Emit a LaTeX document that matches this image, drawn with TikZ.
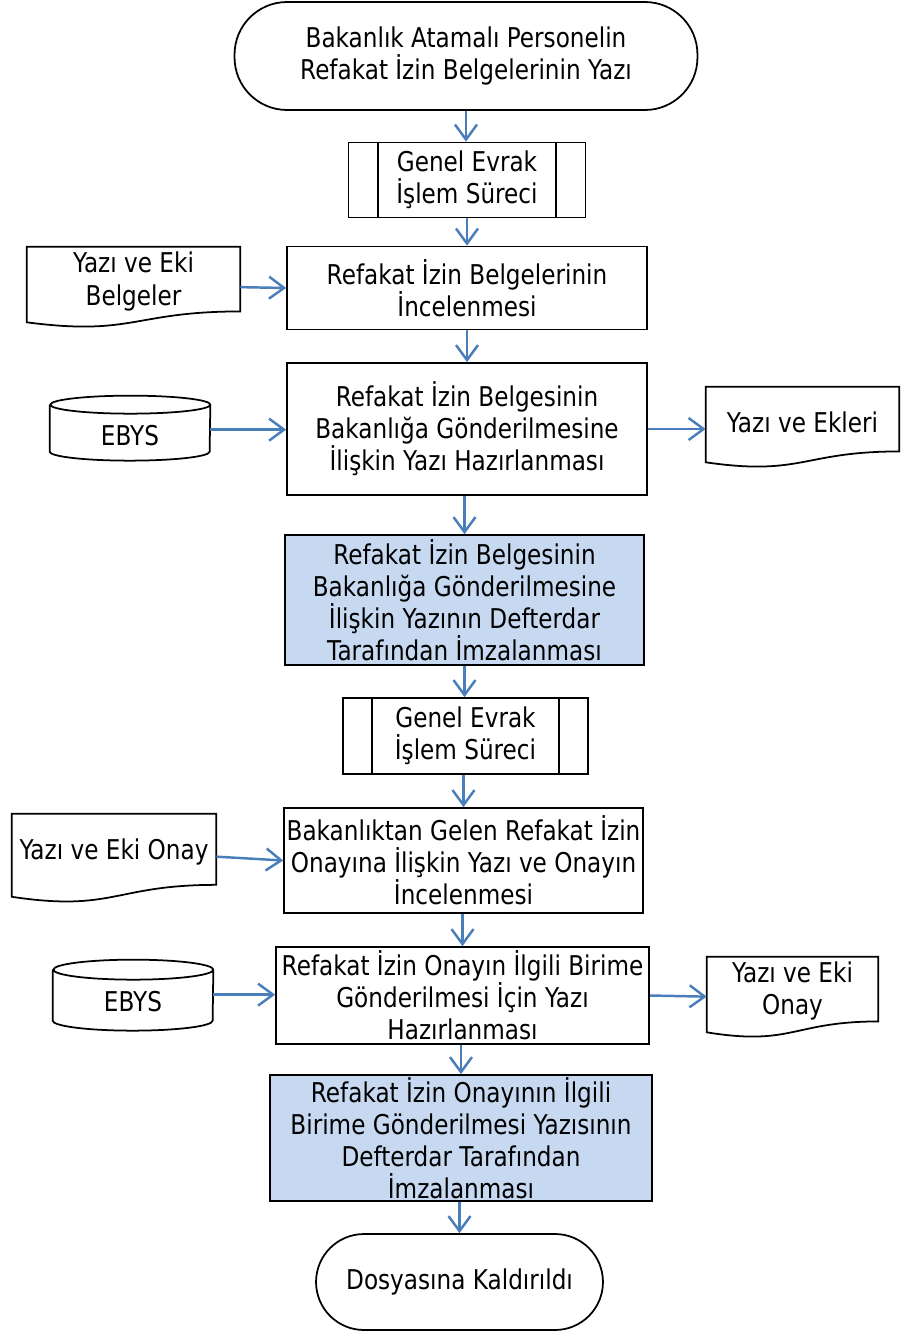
\documentclass[tikz,border=0pt]{standalone}
\usepackage{fontspec}
\setmainfont{DejaVu Sans}[FakeStretch=0.85]
\usetikzlibrary{arrows.meta,calc}
\definecolor{flowblue}{HTML}{4A7EBB}
\definecolor{fillblue}{HTML}{C6D9F1}
\tikzset{every node/.style={align=center, inner sep=0pt, font=\fontsize{15.5}{18.3}\selectfont},
  proc/.style={draw, line width=1pt},
  blueproc/.style={proc, fill=fillblue},
  term/.style={draw, line width=1pt, rounded corners=1.05cm},
  subproc/.style={draw, line width=1pt},
  docbox/.style={},
  dbbox/.style={minimum width=3.2cm},
  shapeline/.style={line width=1pt},
  flow/.style={flowblue, line width=1.4pt, -{Straight Barb[length=0.3cm,width=0.44cm,line width=1.4pt]}}}

\begin{document}
\begin{tikzpicture}[x=0.02cm,y=0.02cm]
  \useasboundingbox (0,0) rectangle (900,-1332);
  % main column
  \node[term, minimum width=9.26cm, minimum height=2.16cm] (start) at (466,-56) {Bakanlık Atamalı Personelin\\Refakat İzin Belgelerinin Yazı};
  \node[subproc, minimum width=4.74cm, minimum height=1.5cm] (sub1) at (467,-180) {Genel Evrak\\İşlem Süreci};
  \node[proc, minimum width=7.2cm, minimum height=1.66cm] (b1) at (467,-288) {Refakat İzin Belgelerinin\\İncelenmesi};
  \node[proc, minimum width=7.2cm, minimum height=2.64cm] (b2) at (467,-429) {Refakat İzin Belgesinin\\Bakanlığa Gönderilmesine\\İlişkin Yazı Hazırlanması};
  \node[blueproc, minimum width=7.18cm, minimum height=2.6cm] (b3) at (464.5,-600) {Refakat İzin Belgesinin\\Bakanlığa Gönderilmesine\\İlişkin Yazının Defterdar\\Tarafından İmzalanması};
  \node[subproc, minimum width=4.9cm, minimum height=1.52cm] (sub2) at (465.5,-736) {Genel Evrak\\İşlem Süreci};
  \node[proc, minimum width=7.18cm, minimum height=2.1cm] (b4) at (463.5,-860.5) {Bakanlıktan Gelen Refakat İzin\\Onayına İlişkin Yazı ve Onayın\\İncelenmesi};
  \node[proc, minimum width=7.46cm, minimum height=1.94cm] (b5) at (462.5,-995.5) {Refakat İzin Onayın İlgili Birime\\Gönderilmesi İçin Yazı\\Hazırlanması};
  \node[blueproc, minimum width=7.64cm, minimum height=2.52cm] (b6) at (461,-1138) {Refakat İzin Onayının İlgili\\Birime Gönderilmesi Yazısının\\Defterdar Tarafından\\İmzalanması};
  \node[term, rounded corners=0.96cm, minimum width=5.74cm, minimum height=1.92cm] (end) at (459.5,-1282) {Dosyasına Kaldırıldı};

  % side nodes (north = top edge, centre = text)
  \node[docbox, minimum width=4.26cm, minimum height=1.38cm] (doc1) at (133.5,-281.5) {Yazı ve Eki\\Belgeler};
  \node[dbbox, minimum height=1.6cm] (ebys1) at (130,-436) {EBYS};
  \node[docbox, minimum width=3.86cm, minimum height=1.4cm] (doc2) at (802.5,-422) {Yazı ve Ekleri};
  \node[docbox, minimum width=4.08cm, minimum height=1.52cm] (doc3) at (114,-852) {Yazı ve Eki Onay};
  \node[dbbox, minimum height=1.68cm] (ebys2) at (133,-1002) {EBYS};
  \node[docbox, minimum width=3.42cm, minimum height=1.36cm] (doc4) at (792.5,-991) {Yazı ve Eki\\Onay};

  % subprocess bars
  \foreach \s in {sub1,sub2} {
    \draw[shapeline] ([xshift=0.6cm]\s.north west) -- ([xshift=0.6cm]\s.south west);
    \draw[shapeline] ([xshift=-0.6cm]\s.north east) -- ([xshift=-0.6cm]\s.south east);
  }
  % documents
  \foreach \d/\H in {doc1/1.62cm,doc2/1.62cm,doc3/1.78cm,doc4/1.62cm}
    \draw[shapeline] (\d.north west) -- (\d.north east) -- ($(\d.north east)+(0,-0.8*\H)$)
      .. controls ($(\d.north)+(0,-0.8*\H)$) and ($(\d.north)+(0,-1.107*\H)$) .. ($(\d.north west)+(0,-0.934*\H)$) -- cycle;
  % databases
  \foreach \c/\H/\r in {ebys1/1.3cm/0.18cm,ebys2/1.42cm/0.2cm}
    \draw[shapeline] ([yshift=-\r]\c.north west) -- ($(\c.north west)+(0,-\H+\r)$)
      arc[start angle=180, end angle=360, x radius=1.6cm, y radius=\r]
      -- ([yshift=-\r]\c.north east)
      arc[start angle=0, end angle=360, x radius=1.6cm, y radius=\r];

  % connectors
  \draw[flow] (start) -- (start |- sub1.north);
  \draw[flow] (sub1) -- (sub1 |- b1.north);
  \draw[flow] (b1) -- (b1 |- b2.north);
  \draw[flow] (b2.south -| b3) -- (b3);
  \draw[flow] (b3) -- (b3 |- sub2.north);
  \draw[flow] (sub2.south -| b4) -- (b4);
  \draw[flow] (b4.south -| b5) -- (b5);
  \draw[flow] (b5.south -| b6) -- (b6);
  \draw[flow] (b6.south -| end) -- (end);
  \draw[flow] ($(doc1.north east)+(0,-0.81cm)$) -- (b1.west);
  \draw[flow] ($(ebys1.north east)+(0,-0.68cm)$) coordinate (e1) -- (e1 -| b2.west);
  \draw[flow] (b2.east) -- (b2.east -| doc2.west);
  \draw[flow] ($(doc3.north east)+(0,-0.86cm)$) -- (b4.west);
  \draw[flow] ($(ebys2.north east)+(0,-0.7cm)$) coordinate (e2) -- (e2 -| b5.west);
  \draw[flow] (b5.east) -- ($(doc4.north west)+(0,-0.8cm)$);
\end{tikzpicture}
\end{document}
